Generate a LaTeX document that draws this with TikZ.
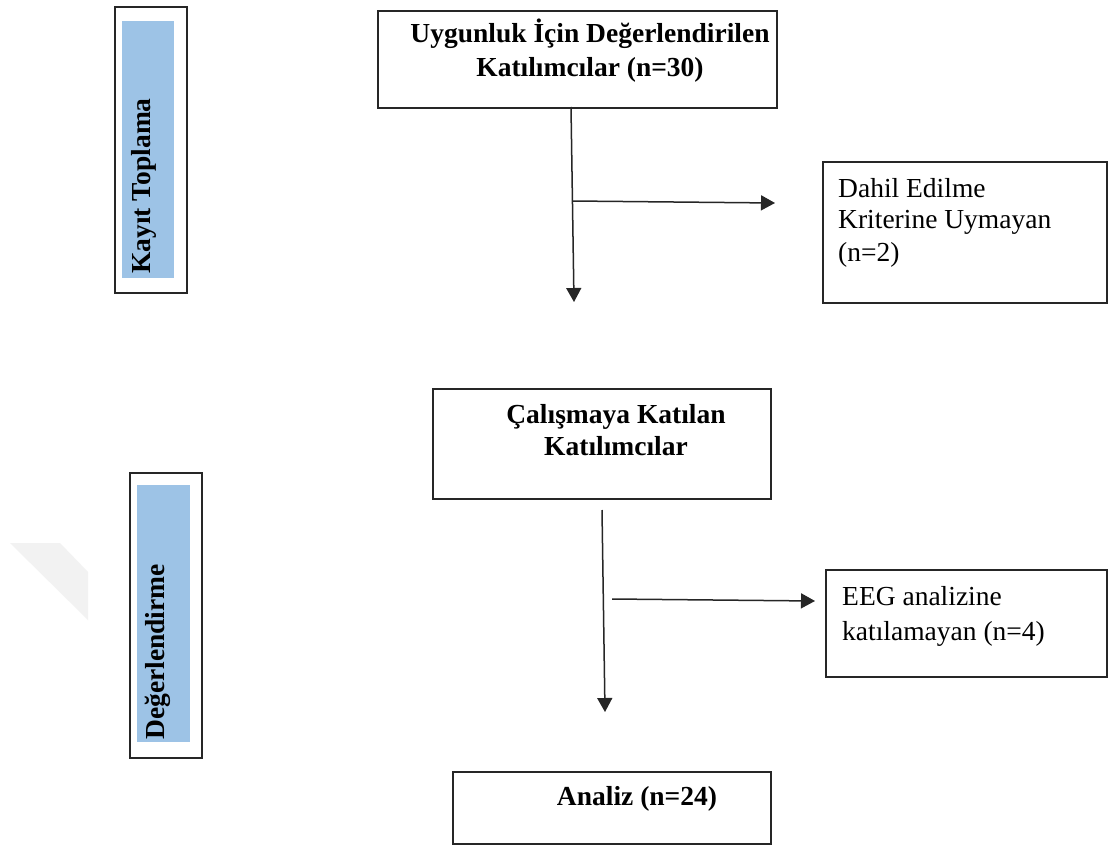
\documentclass[tikz,border=0pt]{standalone}
\usepackage{fontspec}
\setmainfont{Liberation Serif}
\usetikzlibrary{arrows.meta}
\definecolor{sideblue}{RGB}{157,195,230}
\definecolor{wmgray}{RGB}{242,242,242}
\begin{document}
\begin{tikzpicture}[x=1pt,y=-1pt,
  box/.style={draw=black!85, line width=1.8pt, rectangle, inner sep=0pt, anchor=north west},
  sidebox/.style={draw=black!85, line width=1.8pt, rectangle, inner sep=0pt, anchor=north west},
  bluebar/.style={fill=sideblue, draw=none, rectangle, inner sep=0pt, anchor=north west},
  bt/.style={font=\fontsize{27.5}{34}\selectfont\bfseries, inner sep=0pt},
  rt/.style={font=\fontsize{27.5}{34}\selectfont, inner sep=0pt},
  arr/.style={line width=1.5pt, draw=black!85, -{Triangle[width=15pt,length=14pt]}}]
\useasboundingbox[fill=white] (0,0) rectangle (1108,845);
% faint watermark
\fill[wmgray] (10,543) -- (60,543) -- (88,572) -- (88,620) -- cycle;
% left phase labels
\node[sidebox, minimum width=72pt, minimum height=286pt] (s1) at (114,6) {};
\node[bluebar, minimum width=52pt, minimum height=257pt] (s1b) at (122,21) {};
\node[bt, rotate=90, anchor=base west] (s1t) at (150,274) {Kayıt Toplama};
\node[sidebox, minimum width=72pt, minimum height=285pt] (s2) at (129,472) {};
\node[bluebar, minimum width=53pt, minimum height=257pt] (s2b) at (137,485) {};
\node[bt, rotate=90, anchor=base west] (s2t) at (164,740) {Değerlendirme};
% main boxes
\node[box, minimum width=399pt, minimum height=97pt] (b1) at (377,10) {};
\node[bt, anchor=base] (b1a) at (590,43) {Uygunluk İçin Değerlendirilen};
\node[bt, anchor=base] (b1b) at (590,77) {Katılımcılar (n=30)};
\node[box, minimum width=284pt, minimum height=141pt] (e1) at (822,161) {};
\node[rt, anchor=base west] (e1a) at (838,197) {Dahil Edilme};
\node[rt, anchor=base west] (e1b) at (838,229) {Kriterine Uymayan};
\node[rt, anchor=base west] (e1c) at (838,261) {(n=2)};
\node[box, minimum width=338pt, minimum height=110pt] (b2) at (432,388) {};
\node[bt, anchor=base] (b2a) at (616,423) {Çalışmaya Katılan};
\node[bt, anchor=base] (b2b) at (616,455) {Katılımcılar};
\node[box, minimum width=281pt, minimum height=107pt] (e2) at (825,569) {};
\node[rt, anchor=base west] (e2a) at (842,605) {EEG analizine};
\node[rt, anchor=base west] (e2b) at (842,640) {katılamayan (n=4)};
\node[box, minimum width=318pt, minimum height=72pt] (b3) at (452,771) {};
\node[bt, anchor=base] (b3a) at (637,805) {Analiz (n=24)};
% connectors
\coordinate (v1s) at (571,107);
\coordinate (v1e) at (574,302);
\coordinate (h1s) at (572,201);
\coordinate (h1e) at (775,203);
\coordinate (v2s) at (602,510);
\coordinate (v2e) at (605,712);
\coordinate (h2s) at (612,599);
\coordinate (h2e) at (815,601);
\draw[arr] (v1s) -- (v1e);
\draw[arr] (h1s) -- (h1e);
\draw[arr] (v2s) -- (v2e);
\draw[arr] (h2s) -- (h2e);
\end{tikzpicture}
\end{document}
